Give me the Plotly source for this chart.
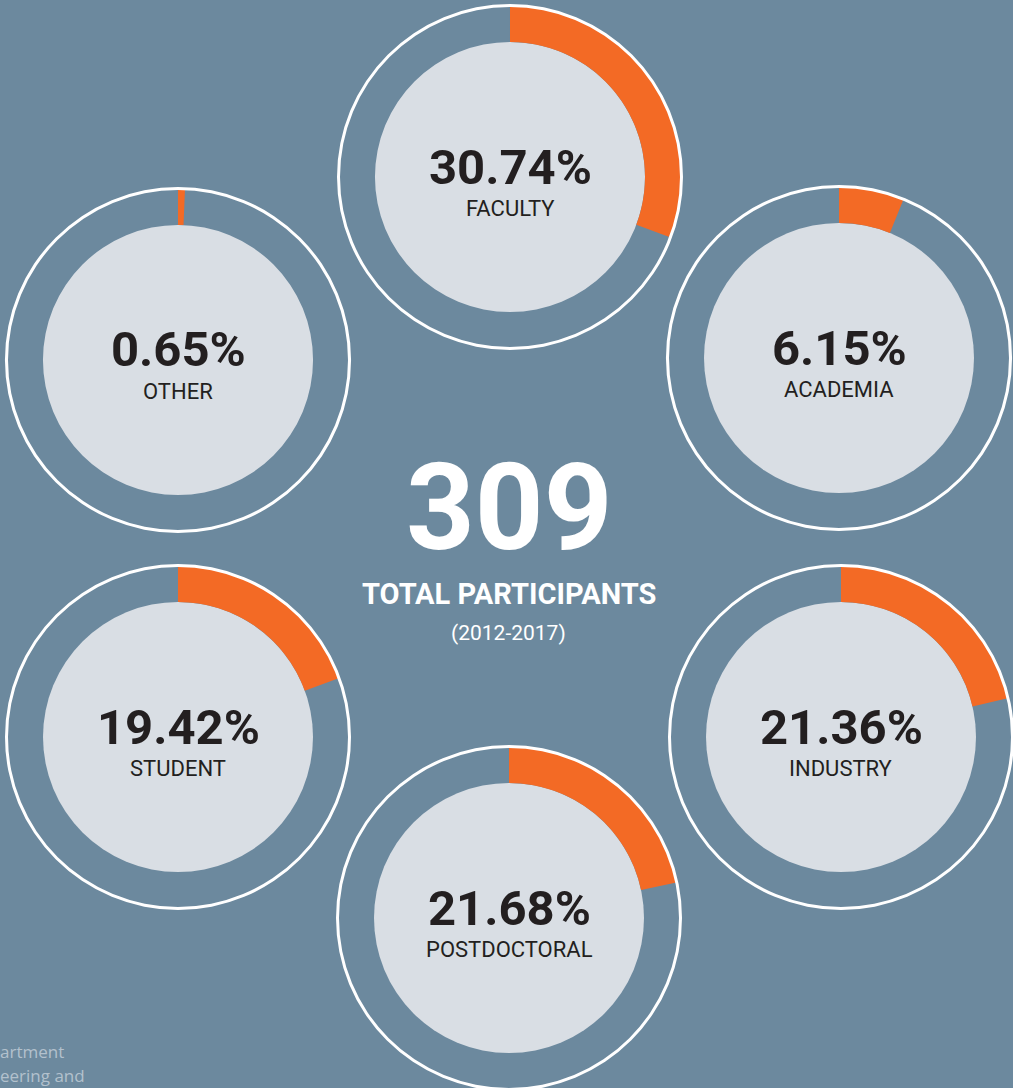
import plotly.graph_objects as go

# ---- data ----
categories = ["FACULTY", "ACADEMIA", "INDUSTRY", "POSTDOCTORAL", "STUDENT", "OTHER"]
shares = [30.74, 6.15, 21.36, 21.68, 19.42, 0.65]
total_participants = 309
period_label = "(2012-2017)"
footer_lines = ["artment", "eering and"]

# ---- layout (pixel positions of each ring centre) ----
W, H = 1020, 1100
centers_x = [510, 839, 841, 509, 178, 178]
centers_y = [177, 358, 737, 918, 737, 360]
R_INNER = 135
R_ARC = 171
R_RING_IN = 170
R_RING_OUT = 173

BG = "rgb(108,137,158)"
DISC = "#d9dee4"
ORANGE = "#f36a25"
DARK = "#231f20"


def domain(cx, cy, r):
    return dict(x=[(cx - r) / W, (cx + r) / W], y=[1 - (cy + r) / H, 1 - (cy - r) / H])


fig = go.Figure()
for cat, val, cx, cy in zip(categories, shares, centers_x, centers_y):
    # light disc
    fig.add_trace(go.Pie(values=[1], labels=[cat], domain=domain(cx, cy, R_INNER),
                         marker=dict(colors=[DISC], line=dict(width=0)),
                         textinfo="none", hoverinfo="none", sort=False, showlegend=False))
    # orange share arc
    fig.add_trace(go.Pie(values=[val, 100 - val], labels=[cat, "rest"],
                         domain=domain(cx, cy, R_ARC), hole=R_INNER / R_ARC,
                         direction="clockwise", rotation=0, sort=False,
                         marker=dict(colors=[ORANGE, "rgba(0,0,0,0)"], line=dict(width=0)),
                         textinfo="none", hoverinfo="none", showlegend=False))
    # white outer ring
    fig.add_trace(go.Pie(values=[1], labels=[cat + " ring"], domain=domain(cx, cy, R_RING_OUT),
                         hole=R_RING_IN / R_RING_OUT,
                         marker=dict(colors=["white"], line=dict(width=0)),
                         textinfo="none", hoverinfo="none", sort=False, showlegend=False))

annotations = []
for cat, val, cx, cy in zip(categories, shares, centers_x, centers_y):
    annotations.append(dict(x=cx / W, y=1 - (cy - 10) / H, xref="paper", yref="paper",
                            text=f"{val:.2f}%", showarrow=False, xanchor="center", yanchor="middle",
                            font=dict(family="Roboto", size=49, color=DARK, weight=700)))
    annotations.append(dict(x=cx / W, y=1 - (cy + 31) / H, xref="paper", yref="paper",
                            text=cat, showarrow=False, xanchor="center", yanchor="middle",
                            font=dict(family="Roboto", size=22, color=DARK)))

annotations += [
    dict(x=509 / W, y=1 - 508 / H, xref="paper", yref="paper", text=str(total_participants),
         showarrow=False, xanchor="center", yanchor="middle",
         font=dict(family="Roboto", size=120, color="white", weight=700)),
    dict(x=509 / W, y=1 - 594 / H, xref="paper", yref="paper", text="TOTAL PARTICIPANTS",
         showarrow=False, xanchor="center", yanchor="middle",
         font=dict(family="Roboto", size=29, color="white", weight=700)),
    dict(x=508 / W, y=1 - 633 / H, xref="paper", yref="paper", text=period_label,
         showarrow=False, xanchor="center", yanchor="middle",
         font=dict(family="Roboto", size=21, color="white")),
    dict(x=0, y=1 - 1051 / H, xref="paper", yref="paper", text=footer_lines[0],
         showarrow=False, xanchor="left", yanchor="middle", xshift=-2,
         font=dict(family="Open Sans", size=17, color="#b3c1cd")),
    dict(x=0, y=1 - 1075 / H, xref="paper", yref="paper", text=footer_lines[1],
         showarrow=False, xanchor="left", yanchor="middle", xshift=-2,
         font=dict(family="Open Sans", size=17, color="#b3c1cd")),
]

fig.update_layout(width=W, height=H, margin=dict(l=0, r=0, t=0, b=0, pad=0),
                  paper_bgcolor=BG, plot_bgcolor=BG, annotations=annotations,
                  showlegend=False)

fig.write_html("out.html", config={"displayModeBar": False},
               post_script="document.body.style.margin='0';document.body.style.overflow='hidden';"
                           "document.documentElement.style.overflow='hidden';")
